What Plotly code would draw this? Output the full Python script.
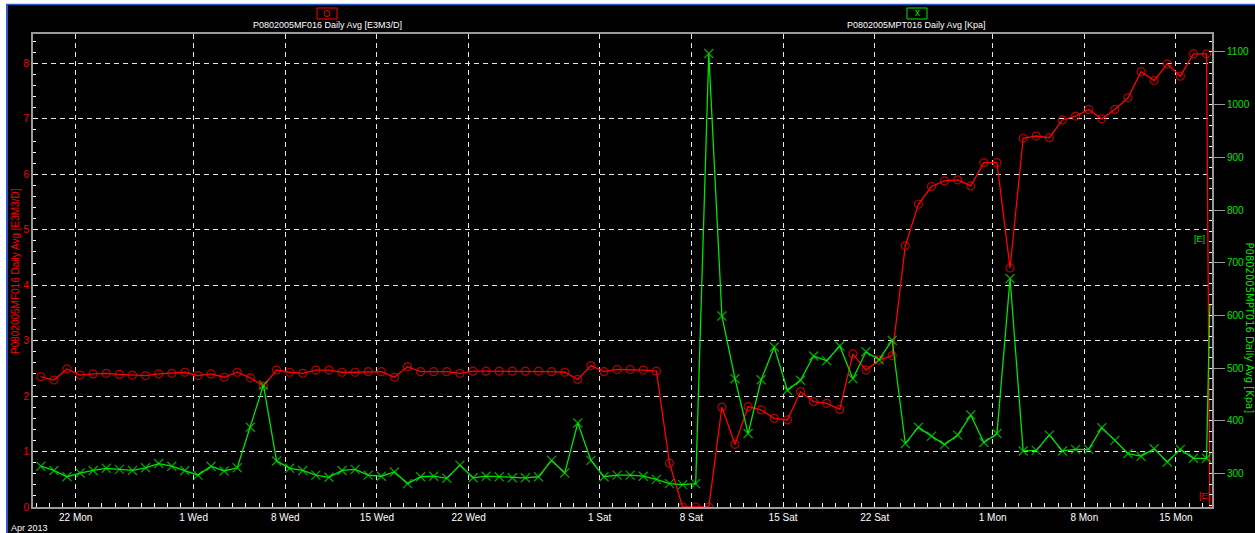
import pandas as pd
import plotly.graph_objects as go

# ---- data -----------------------------------------------------------------
# daily readings (stamped 08:00) from 19 Apr 2013 to 17 Jul 2013,
# followed by the partial-day reading that closes the record
dates = list(pd.date_range("2013-04-19 08:00", periods=90, freq="D")) + [pd.Timestamp("2013-07-17 14:00")]

flow_e3m3d = [
    2.35, 2.29, 2.49, 2.38, 2.40, 2.41, 2.39, 2.38, 2.37, 2.40,
    2.41, 2.43, 2.37, 2.40, 2.34, 2.43, 2.33, 2.18, 2.47, 2.43,
    2.41, 2.47, 2.47, 2.43, 2.43, 2.44, 2.44, 2.34, 2.53, 2.44,
    2.44, 2.44, 2.41, 2.45, 2.45, 2.45, 2.45, 2.45, 2.45, 2.44,
    2.43, 2.30, 2.55, 2.44, 2.48, 2.48, 2.47, 2.45, 0.79, 0.0,
    0.0, 0.0, 1.80, 1.13, 1.81, 1.75, 1.60, 1.57, 2.08, 1.90,
    1.87, 1.76, 2.76, 2.47, 2.65, 2.73, 4.71, 5.46, 5.78, 5.88,
    5.90, 5.79, 6.21, 6.21, 4.31, 6.65, 6.69, 6.66, 6.98, 7.05,
    7.17, 7.00, 7.17, 7.38, 7.85, 7.69, 7.99, 7.77, 8.17, 8.17,
    0.0,
]

pressure_kpa = [
    314, 306, 294, 301, 306, 310, 308, 306, 311, 319,
    314, 306, 297, 314, 305, 311, 388, 468, 324, 310,
    306, 297, 293, 306, 308, 297, 295, 303, 281, 294,
    295, 291, 316, 292, 295, 294, 292, 292, 294, 325,
    301, 396, 325, 294, 297, 297, 295, 289, 281, 279,
    281, 1097, 599, 480, 376, 478, 540, 458, 477, 523,
    514, 542, 480, 531, 516, 553, 357, 388, 371, 355,
    373, 411, 359, 376, 670, 343, 344, 373, 343, 346,
    346, 387, 363, 338, 333, 347, 322, 346, 329, 329,
    620,
]

tick_dates = ["2013-04-22", "2013-05-01", "2013-05-08", "2013-05-15",
              "2013-05-22", "2013-06-01", "2013-06-08", "2013-06-15",
              "2013-06-22", "2013-07-01", "2013-07-08", "2013-07-15"]
tick_text = ["22 Mon", "1 Wed", "8 Wed", "15 Wed", "22 Wed", "1 Sat",
             "8 Sat", "15 Sat", "22 Sat", "1 Mon", "8 Mon", "15 Mon"]

flow_name = "P0802005MF016 Daily Avg [E3M3/D]"
pressure_name = "P0802005MPT016 Daily Avg [Kpa]"

# ---- styling ----------------------------------------------------------------
W, H = 1255, 533
L, R, T, B = 33, 43, 34, 26
PW, PH = W - L - R, H - T - B
RED = "#ff0000"
GREEN = "#00e400"
FRAME = "#9a9a9a"
GRID = "rgba(255,255,255,0.9)"
FONT = "Liberation Sans, Arial, sans-serif"


def px(x):
    return (x - L) / PW


def py(y):
    return (H - B - y) / PH


# the closing reading is drawn as line only
sizes_red = [8] * (len(dates) - 1) + [0]
sizes_green = [9] * (len(dates) - 1) + [0]

fig = go.Figure()
fig.add_trace(go.Scatter(
    x=dates, y=pressure_kpa, yaxis="y2", mode="lines+markers",
    line=dict(color=GREEN, width=1.3),
    marker=dict(symbol="x-thin", size=sizes_green, color=GREEN,
                line=dict(color=GREEN, width=1.3)),
    showlegend=False, name=pressure_name,
))
fig.add_trace(go.Scatter(
    x=dates, y=flow_e3m3d, mode="lines+markers",
    line=dict(color=RED, width=1.3),
    marker=dict(symbol="circle-open", size=sizes_red, color=RED,
                line=dict(color=RED, width=1.2)),
    showlegend=False, name=flow_name,
))

shapes = [
    # window edge
    dict(type="rect", xref="paper", yref="paper", x0=px(0), x1=px(W), y0=py(4), y1=py(0),
         fillcolor="white", line=dict(width=0), layer="above"),
    dict(type="rect", xref="paper", yref="paper", x0=px(0), x1=px(6), y0=py(H), y1=py(0),
         fillcolor="white", line=dict(width=0), layer="above"),
    dict(type="line", xref="paper", yref="paper", x0=px(6), x1=px(W), y0=py(4.5), y1=py(4.5),
         line=dict(color="#2a5cc8", width=1.5), layer="above"),
    dict(type="line", xref="paper", yref="paper", x0=px(7), x1=px(7), y0=py(H), y1=py(4),
         line=dict(color="#2a5cc8", width=2), layer="above"),
    # series keys
    dict(type="rect", xref="paper", yref="paper", x0=px(317), x1=px(337), y0=py(19), y1=py(8),
         line=dict(color=RED, width=1), fillcolor="rgba(0,0,0,0)"),
    dict(type="circle", xref="paper", yref="paper", x0=px(324), x1=px(330), y0=py(16.5), y1=py(10.5),
         line=dict(color=RED, width=1)),
    dict(type="rect", xref="paper", yref="paper", x0=px(907), x1=px(927), y0=py(19), y1=py(8),
         line=dict(color=GREEN, width=1), fillcolor="rgba(0,0,0,0)"),
]

annotations = [
    dict(text=flow_name, x=px(327), y=py(25), xref="paper", yref="paper", showarrow=False,
         font=dict(family=FONT, size=9, color="white"), xanchor="center", yanchor="middle"),
    dict(text=pressure_name, x=px(916), y=py(25), xref="paper", yref="paper", showarrow=False,
         font=dict(family=FONT, size=9, color="white"), xanchor="center", yanchor="middle"),
    dict(text="x", x=px(917), y=py(13), xref="paper", yref="paper", showarrow=False,
         font=dict(family=FONT, size=10, color=GREEN), xanchor="center", yanchor="middle"),
    dict(text=flow_name, x=px(15), y=py(271), xref="paper", yref="paper", showarrow=False,
         textangle=-90, font=dict(family=FONT, size=10, color=RED),
         xanchor="center", yanchor="middle"),
    dict(text=pressure_name, x=px(1248.5), y=py(328), xref="paper", yref="paper", showarrow=False,
         textangle=90, font=dict(family="DejaVu Sans, sans-serif", size=10, color=GREEN),
         xanchor="center", yanchor="middle"),
    dict(text="Apr 2013", x=px(9), y=py(528), xref="paper", yref="paper", showarrow=False,
         font=dict(family=FONT, size=9, color="white"), xanchor="left", yanchor="middle"),
    dict(text="[E]", x=px(1199), y=py(239), xref="paper", yref="paper", showarrow=False,
         font=dict(family=FONT, size=9, color=GREEN), xanchor="center", yanchor="middle"),
    dict(text="[E]", x=px(1204), y=py(496), xref="paper", yref="paper", showarrow=False,
         font=dict(family=FONT, size=9, color=RED), xanchor="center", yanchor="middle"),
]

fig.update_layout(
    width=W, height=H,
    margin=dict(l=L, r=R, t=T, b=B, pad=0, autoexpand=False),
    paper_bgcolor="black", plot_bgcolor="black",
    font=dict(family=FONT, size=10, color="white"),
    showlegend=False,
    shapes=shapes,
    annotations=annotations,
    xaxis=dict(
        type="date", automargin=False,
        range=["2013-04-18 17:45", "2013-07-17 18:00"],
        tickmode="array", tickvals=tick_dates, ticktext=tick_text,
        ticks="inside", ticklen=4, tickcolor="white", tickwidth=1,
        tickfont=dict(family=FONT, size=10, color="white"),
        showgrid=True, gridcolor=GRID, gridwidth=1, griddash="5px,4px",
        showline=True, linecolor=FRAME, linewidth=2, mirror=True,
        zeroline=False,
        minor=dict(tick0="2013-04-19", dtick=86400000, ticks="inside", ticklen=4,
                   tickcolor="white", tickwidth=1, showgrid=False),
    ),
    yaxis=dict(
        automargin=False,
        range=[0, 8.53],
        tickmode="array", tickvals=list(range(0, 9)),
        ticks="inside", ticklen=5, tickcolor="white",
        tickfont=dict(family=FONT, size=10, color=RED),
        showgrid=True, gridcolor=GRID, gridwidth=1, griddash="5px,4px",
        showline=True, linecolor=FRAME, linewidth=2,
        zeroline=False,
        minor=dict(tick0=0, dtick=0.2, ticks="inside", ticklen=3,
                   tickcolor="white", showgrid=False),
    ),
    yaxis2=dict(
        automargin=False,
        overlaying="y", side="right",
        range=[236.6, 1134],
        tickmode="array", tickvals=list(range(300, 1200, 100)),
        ticks="outside", ticklen=11, tickcolor=FRAME,
        tickfont=dict(family=FONT, size=10, color=GREEN),
        showgrid=False,
        showline=True, linecolor=FRAME, linewidth=2,
        zeroline=False,
        minor=dict(tick0=300, dtick=20, ticks="inside", ticklen=3,
                   tickcolor="white", showgrid=False),
    ),
)

fig.write_html("out.html")
